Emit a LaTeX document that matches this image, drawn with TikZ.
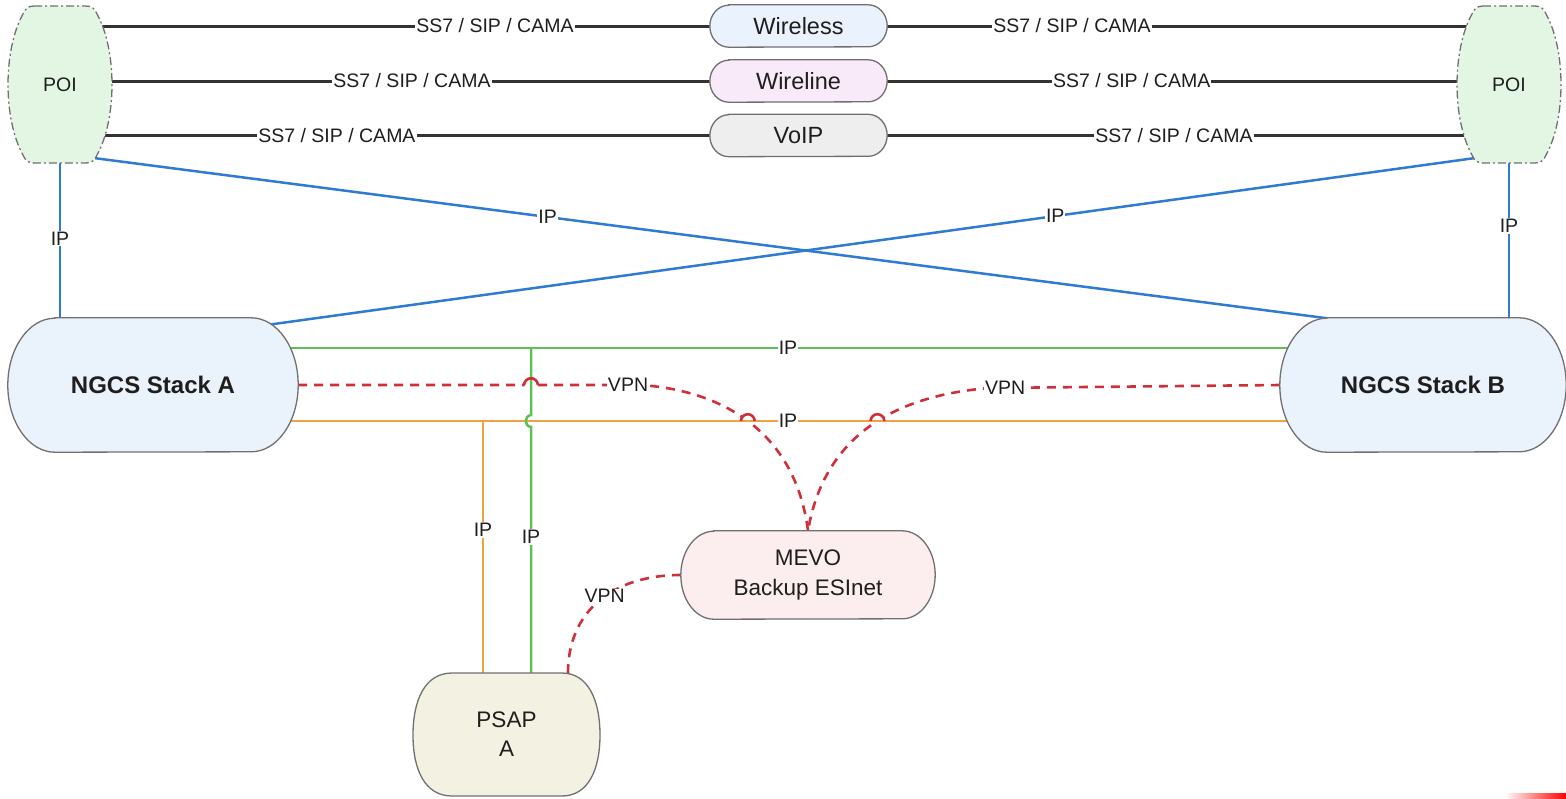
\documentclass[tikz,border=0pt]{standalone}
\usepackage{fontspec}
\setmainfont{Liberation Sans}
\usetikzlibrary{calc,backgrounds,intersections}
\pgfdeclarelayer{shapes}
\pgfsetlayers{background,shapes,main}
\definecolor{lineblue}{HTML}{2F7BD2}
\definecolor{linegreen}{HTML}{5FBF57}
\definecolor{lineorange}{HTML}{F2A242}
\definecolor{vpnred}{HTML}{CF2F36}
\definecolor{blackline}{HTML}{333333}
\definecolor{bordergray}{HTML}{707070}
\definecolor{poifill}{HTML}{E3F6E3}
\definecolor{ngfill}{HTML}{EAF2FC}
\definecolor{wlsfill}{HTML}{EAF3FD}
\definecolor{wlnfill}{HTML}{F9EAF9}
\definecolor{voipfill}{HTML}{EEEEEE}
\definecolor{mevofill}{HTML}{FCEEEE}
\definecolor{psapfill}{HTML}{F3F1E1}
\definecolor{txt}{HTML}{1E1E1E}
% oval outline round a named node: #1 node, #2 x radius, #3 y radius, #4 style
\newcommand{\ovalpill}[4]{%
  \path[#4] ($(#1.north west)+(#2,0)$) -- ($(#1.north east)+(-#2,0)$)
    arc[start angle=90, end angle=-90, x radius=#2pt, y radius=#3pt]
    -- ($(#1.south west)+(#2,0)$)
    arc[start angle=270, end angle=90, x radius=#2pt, y radius=#3pt] -- cycle;}
\tikzset{
  lbl/.style={fill=white, inner sep=1pt, text=txt, font=\fontsize{19.5}{22}\selectfont},
  blk/.style={draw=blackline, line width=3pt},
  bl/.style={draw=lineblue, line width=2.5pt},
  gr/.style={draw=linegreen, line width=2.5pt},
  og/.style={draw=lineorange, line width=2.5pt},
  vpn/.style={draw=vpnred, line width=2.6pt, dash pattern=on 9pt off 7pt},
  hop/.style={draw=vpnred, line width=2.6pt},
  outline/.style={draw=bordergray, line width=1.3pt},
  poiline/.style={outline, fill=poifill, dash pattern=on 8pt off 3pt on 2pt off 3pt},
  poitext/.style={minimum width=104pt, minimum height=157pt, inner sep=0pt, text=txt, font=\fontsize{19.5}{22}\selectfont},
  pill/.style={minimum width=177pt, minimum height=42pt, inner sep=0pt, text=txt, font=\fontsize{23.5}{28}\selectfont},
  ngcs/.style={minimum width=290pt, minimum height=134pt, inner sep=0pt, text=txt, font=\fontsize{24}{28}\selectfont\bfseries},
  mevobox/.style={minimum width=254pt, minimum height=88pt, inner sep=0pt, align=center, text=txt, font=\fontsize{22.5}{30}\selectfont},
  psaptext/.style={minimum width=187pt, minimum height=123pt, inner sep=0pt, align=center, text=txt, font=\fontsize{22.5}{29}\selectfont},
  poibarrel/.pic={\path[poiline] (34,6) -- (86,6) .. controls (92,6) and (95,9) .. (97,14) .. controls (117,50) and (117,119) .. (97,155) .. controls (95,160) and (92,163) .. (86,163) -- (34,163) .. controls (28,163) and (25,160) .. (23,155) .. controls (3,119) and (3,50) .. (23,14) .. controls (25,9) and (28,6) .. (34,6) -- cycle;}
}
\begin{document}
\begin{tikzpicture}[x=1pt,y=-1pt]
\useasboundingbox (0,0) rectangle (1566,798);
% ---------- nodes ----------
\node[poitext] (poiL) at (60,84.5) {POI};
\node[poitext] (poiR) at (1509,84.5) {POI};
\node[pill] (wls) at (798.5,26) {Wireless};
\node[pill] (wln) at (798.5,81) {Wireline};
\node[pill] (voip) at (798.5,135.5) {VoIP};
\node[ngcs] (ngA) at (153,385) {NGCS Stack A};
\node[ngcs, minimum width=286pt] (ngB) at (1423,385) {NGCS Stack B};
\node[mevobox] (mevo) at (808,575) {MEVO\\Backup ESInet};
\node[psaptext] (psap) at (506.5,734.5) {PSAP\\A};
% ---------- node outlines ----------
\begin{pgfonlayer}{shapes}
\pic at (0,0) {poibarrel};
\pic at (1449,0) {poibarrel};
\ovalpill{wls}{19}{21}{outline, fill=wlsfill}
\ovalpill{wln}{19}{21}{outline, fill=wlnfill}
\ovalpill{voip}{19}{21}{outline, fill=voipfill}
\ovalpill{ngA}{47}{67}{outline, fill=ngfill}
\ovalpill{ngB}{47}{67}{outline, fill=ngfill}
\ovalpill{mevo}{33}{44}{outline, fill=mevofill}
\path[outline, fill=psapfill] (452,673) -- (562,673) .. controls (588,673) and (600,700) .. (600,735) .. controls (600,770) and (588,796) .. (562,796) -- (452,796) .. controls (425,796) and (413,770) .. (413,735) .. controls (413,700) and (425,673) .. (452,673) -- cycle;
\shade[left color=white, right color=red] (1505,793) rectangle (1566,798);
\end{pgfonlayer}
% ---------- connectors ----------
\begin{pgfonlayer}{background}
\draw[blk] (poiL.center |- wls.center) -- node[lbl,pos=0.589]{SS7 / SIP / CAMA} (wls.center);
\draw[blk] (poiL.center |- wln.center) -- node[lbl,pos=0.4766]{SS7 / SIP / CAMA} (wln.center);
\draw[blk] (poiL.center |- voip.center) -- node[lbl,pos=0.375]{SS7 / SIP / CAMA} (voip.center);
\draw[blk] (wls.center) -- node[lbl,pos=0.385]{SS7 / SIP / CAMA} (poiR.center |- wls.center);
\draw[blk] (wln.center) -- node[lbl,pos=0.469]{SS7 / SIP / CAMA} (poiR.center |- wln.center);
\draw[blk] (voip.center) -- node[lbl,pos=0.5285]{SS7 / SIP / CAMA} (poiR.center |- voip.center);
\draw[bl] (poiL.south) -- node[lbl,pos=0.34]{IP} (poiL.south |- ngA.center);
\draw[bl] (poiR.south) -- node[lbl,pos=0.284]{IP} (poiR.south |- ngB.center);
\draw[bl] ($(poiL.south east)+(-17,-5)$) -- node[lbl,pos=0.362]{IP} ($(ngB.center)+(-78,-64.4)$);
\draw[bl] ($(poiR.south west)+(17,-5)$) -- node[lbl,pos=0.342]{IP} ($(ngA.center)+(97,-57.7)$);
% VPN links
\draw[vpn, name path=vpnA] (ngA.east) -- node[lbl,pos=0.965]{VPN} (640,385) .. controls (720,390) and (795,430) .. (mevo.north);
\draw[vpn, name path=vpnB] (ngB.west) -- node[lbl,pos=0.948]{VPN} (990,388) .. controls (912,394) and (826,424) .. (mevo.north);
\draw[vpn] (mevo.west) .. controls (612,575) and (568,612) .. node[lbl,pos=0.45]{VPN} ($(psap.north)+(61.5,0)$);
% crossings
\coordinate (oJ) at (483,421);
\coordinate (gJ) at (531,348);
\coordinate (gxo) at (gJ |- oJ);
\path[name path=ohz] ($(ngA.center)+(0,36)$) -- ($(ngB.center)+(0,36)$);
\path[name path=gv] (gJ) -- (gJ |- psap.north);
\path[name intersections={of=vpnA and gv, by=hxA}];
\path[name intersections={of=vpnA and ohz, by=hxB}];
\path[name intersections={of=vpnB and ohz, by=hxC}];
\fill[white] (hxA) circle[radius=6.5];
\fill[white] (hxB) circle[radius=6.5];
\fill[white] (hxC) circle[radius=6.5];
% IP links
\draw[gr] ($(ngA.center)+(0,-37)$) -- node[lbl,pos=0.5]{IP} ($(ngB.center)+(0,-37)$);
\draw[og] ($(ngA.center)+(0,36)$) -- node[lbl,pos=0.5]{IP} ($(ngB.center)+(0,36)$);
\draw[og] (oJ) -- node[lbl,pos=0.4325]{IP} (oJ |- psap.north);
\draw[gr] (gJ) -- ($(gxo)+(0,-6)$) .. controls ($(gxo)+(-7,-5)$) and ($(gxo)+(-7,5)$) .. ($(gxo)+(0,6)$) -- node[lbl,pos=0.447]{IP} (gJ |- psap.north);
% hops of the VPN links
\draw[hop] ($(hxA)+(-7,0)$) .. controls ($(hxA)+(-6,-9)$) and ($(hxA)+(6,-9)$) .. ($(hxA)+(7,0)$);
\draw[hop] ($(hxB)+(-7,0)$) .. controls ($(hxB)+(-6,-9)$) and ($(hxB)+(6,-9)$) .. ($(hxB)+(7,0)$);
\draw[hop] ($(hxC)+(-7,0)$) .. controls ($(hxC)+(-6,-9)$) and ($(hxC)+(6,-9)$) .. ($(hxC)+(7,0)$);
\end{pgfonlayer}
\end{tikzpicture}
\end{document}
